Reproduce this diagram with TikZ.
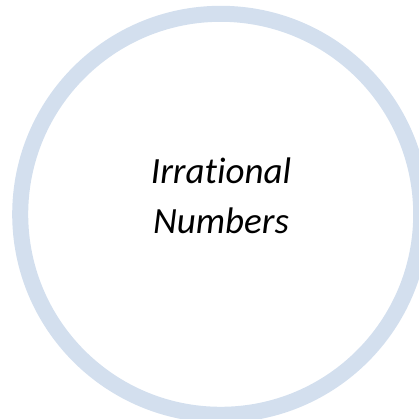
\documentclass[tikz,border=0pt]{standalone}
\usepackage{fontspec}
\setmainfont{Carlito}[Ligatures=NoCommon]
\usepackage{tikz}
\usetikzlibrary{positioning,calc}
\definecolor{ringBlue}{HTML}{D3DFEE}

\begin{document}
\begin{tikzpicture}[x=1pt, y=1pt,
        every node/.style={font=\fontsize{37}{50}\selectfont\itshape, align=center},
        ring/.style={circle, draw=ringBlue, line width=16pt, minimum size=401pt, inner sep=0pt}]
        \clip (0,0) rectangle (419,419);

        \node[ring] (irr) at (220.7, 204.7) {};
        \node[anchor=base] (irrlabel) at (221, 185) {Irrational\\Numbers};
    \end{tikzpicture}
\end{document}
